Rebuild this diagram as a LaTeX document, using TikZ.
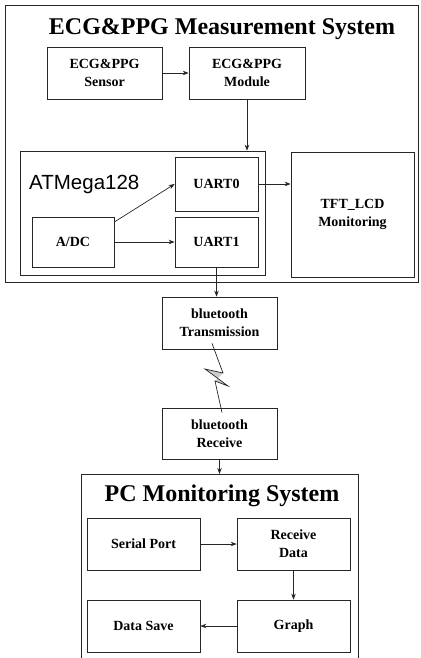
\documentclass[tikz,border=0pt]{standalone}
\usepackage{fontspec}
\setmainfont{Liberation Serif}
\newfontfamily\chipfont{Liberation Sans}
\usetikzlibrary{arrows.meta,calc}
\begin{document}
\begin{tikzpicture}[x=1pt,y=-1pt,
  box/.style={draw=black!85,line width=0.7pt,inner sep=0pt,align=center,
    font=\bfseries\fontsize{14}{18}\selectfont},
  frame/.style={draw=black!85,line width=0.7pt,inner sep=0pt},
  arr/.style={draw=black!85,line width=0.7pt,-{Stealth[length=6pt,width=4.5pt]}},
  title/.style={font=\bfseries\fontsize{24}{28}\selectfont,inner sep=0pt}]
\useasboundingbox (0,0) rectangle (420,658);
% outer ECG&PPG frame
\node[frame,minimum width=413pt,minimum height=277pt] (outer) at (211.5,143.5) {};
\node[title] (t1) at (222,29) {ECG\&PPG Measurement System};
\node[box,minimum width=115pt,minimum height=52pt] (sensor) at (104.5,73) {ECG\&PPG\\Sensor};
\node[box,minimum width=116pt,minimum height=52pt] (module) at (247,73) {ECG\&PPG\\Module};
\node[frame,minimum width=245pt,minimum height=124pt] (atmega) at (142.5,213) {};
\node[inner sep=0pt,anchor=west,font=\chipfont\fontsize{20.5}{24}\selectfont] (atlabel) at (29,184) {ATMega128};
\node[box,minimum width=83pt,minimum height=54pt] (uart0) at (216.5,184) {UART0};
\node[box,minimum width=83pt,minimum height=50pt] (uart1) at (216.5,242) {UART1};
\node[box,minimum width=82pt,minimum height=50pt] (adc) at (73,242) {A/DC};
\node[box,minimum width=123pt,minimum height=125pt] (tft) at (352.5,214.5) {TFT\_LCD\\Monitoring};
% bluetooth
\node[box,minimum width=115pt,minimum height=52pt] (tx) at (219.5,323) {bluetooth\\Transmission};
\node[box,minimum width=115pt,minimum height=51pt] (rx) at (219.5,433.5) {bluetooth\\Receive};
% PC frame
\draw[black!85,line width=0.7pt] (81,660) -- (81,474) -- (358,474) -- (358,660);
\coordinate (pctop) at (219.5,474);
\node[title] (t2) at (222,496) {PC Monitoring System};
\node[box,minimum width=113pt,minimum height=52pt] (serial) at (143.5,544) {Serial Port};
\node[box,minimum width=113pt,minimum height=52pt] (recv) at (293.5,544) {Receive\\Data};
\node[box,minimum width=113pt,minimum height=52pt] (save) at (143.5,626) {Data Save};
\node[box,minimum width=113pt,minimum height=52pt] (graph) at (293.5,626) {Graph};
% connectors
\draw[arr] (sensor.east) -- (module.west);
\draw[arr] (module.south) -- (module.south |- atmega.north);
\draw[arr] (uart0.east) -- (uart0.east -| tft.west);
\draw[arr] ($(adc.east)+(0,-20)$) -- (uart0.west);
\draw[arr] (adc.east) -- (uart1.west);
\draw[arr] (uart1.south) -- (uart1.south |- tx.north);
\draw[arr] (rx.south) -- (pctop);
\draw[arr] (serial.east) -- (recv.west);
\draw[arr] (recv.south) -- (graph.north);
\draw[arr] (graph.west) -- (save.east);
% lightning
\coordinate (l0) at ($(tx.south)+(-7.5,-6)$);
\coordinate (l1) at (223,373);
\coordinate (l2) at (205,369);
\coordinate (l3) at (228,386);
\coordinate (l4) at (215,381);
\coordinate (l5) at ($(rx.north)+(2.5,5)$);
\fill[black!20] (l1) -- (l2) -- (l3) -- (l4) -- cycle;
\draw[black!85,line width=0.7pt] (l0) -- (l1) -- (l2) -- (l3) -- (l4) -- (l5);
\end{tikzpicture}
\end{document}
